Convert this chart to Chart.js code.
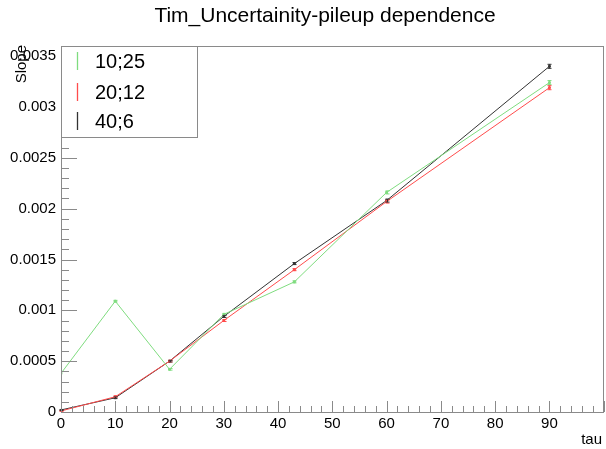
<!DOCTYPE html>
<html lang="en">
<head>
    <meta charset="UTF-8">
    <title>Tim_Uncertainity-pileup dependence</title>
    <style>
        body {
            margin: 0;
            background-color: #ffffff;
        }
        .wrap {
            width: 606px;
            height: 449px;
        }
    </style>
    <script src="https://cdn.jsdelivr.net/npm/chart.js@4/dist/chart.umd.min.js"></script>
</head>
<body>
    <div class="wrap">
        <canvas id="slopeChart" width="606" height="449"></canvas>
    </div>

    <script>
        // tau values and fitted slopes for each pileup configuration
        const tauGreen = [0, 0, 10, 20, 30, 43, 60, 90];
        const slopeGreen = [0.00001, 0.00038, 0.00109, 0.00042, 0.00096, 0.00128, 0.00216, 0.00324];
        const errGreen = [0, 0, 0.000008, 0.000008, 0.00001, 0.00001, 0.000015, 0.00002];

        const tauRed = [0, 10, 20, 30, 43, 60, 90];
        const slopeRed = [0.00001, 0.00015, 0.0005, 0.0009, 0.0014, 0.00207, 0.00319];
        const errRed = [0.000005, 0.000008, 0.000008, 0.00001, 0.00001, 0.000015, 0.00002];

        const tauBlack = [0, 10, 20, 30, 43, 60, 90];
        const slopeBlack = [0.00002, 0.00014, 0.0005, 0.00094, 0.00146, 0.00208, 0.0034];
        const errBlack = [0.000005, 0.000008, 0.000008, 0.00001, 0.00001, 0.000015, 0.00002];

        const legendLabels = ['10;25', '20;12', '40;6'];
        const xTicks = [0, 10, 20, 30, 40, 50, 60, 70, 80, 90];
        const yTicks = [0, 0.0005, 0.001, 0.0015, 0.002, 0.0025, 0.003, 0.0035];

        const GREEN = '#7fdc7f';
        const RED = '#ff4c4c';
        const BLACK = '#333333';
        const AXIS = '#8a8a8a';
        const FONT = "'Liberation Sans', Arial, sans-serif";

        function toPoints(xs, ys) {
            return xs.map((x, i) => ({ x: x, y: ys[i] }));
        }

        function series(label, xs, ys, errs, color) {
            return {
                label: label,
                data: toPoints(xs, ys),
                errors: errs,
                borderColor: color,
                backgroundColor: color,
                borderWidth: 1,
                pointStyle: 'rect',
                pointRadius: 1.3,
                pointHoverRadius: 1.3,
                tension: 0
            };
        }

        // vertical error bars with small end caps
        const errorBars = {
            id: 'errorBars',
            afterDatasetsDraw(chart) {
                const ctx = chart.ctx;
                const y = chart.scales.y;
                chart.data.datasets.forEach((ds, di) => {
                    const meta = chart.getDatasetMeta(di);
                    ctx.save();
                    ctx.strokeStyle = ds.borderColor;
                    ctx.lineWidth = 1;
                    meta.data.forEach((pt, i) => {
                        const e = ds.errors[i];
                        if (!e) return;
                        const v = ds.data[i].y;
                        const top = y.getPixelForValue(v + e);
                        const bot = y.getPixelForValue(v - e);
                        const px = Math.round(pt.x) + 0.5;
                        ctx.beginPath();
                        ctx.moveTo(px, top);
                        ctx.lineTo(px, bot);
                        ctx.moveTo(px - 2, top);
                        ctx.lineTo(px + 2, top);
                        ctx.moveTo(px - 2, bot);
                        ctx.lineTo(px + 2, bot);
                        ctx.stroke();
                    });
                    ctx.restore();
                });
            }
        };

        // frame, inward tick marks, title, axis titles and legend box
        const frameDecor = {
            id: 'frameDecor',
            afterDraw(chart) {
                const ctx = chart.ctx;
                const a = chart.chartArea;
                const xs = chart.scales.x;
                const ys = chart.scales.y;
                ctx.save();
                ctx.strokeStyle = AXIS;
                ctx.lineWidth = 1;
                ctx.strokeRect(Math.round(a.left) + 0.5, Math.round(a.top) + 0.5,
                    Math.round(a.right - a.left) - 1, Math.round(a.bottom - a.top));

                // x ticks: major every 10, minor every 2
                ctx.beginPath();
                for (let v = 0; v <= 100; v += 2) {
                    const px = Math.round(xs.getPixelForValue(v)) + 0.5;
                    const len = v % 10 === 0 ? 11 : 6;
                    ctx.moveTo(px, a.bottom);
                    ctx.lineTo(px, a.bottom - len);
                }
                // y ticks: major every 0.0005, minor every 0.0001
                for (let k = 0; k <= 36; k++) {
                    const py = Math.round(ys.getPixelForValue(k * 0.0001)) + 0.5;
                    const len = k % 5 === 0 ? 16 : 8;
                    ctx.moveTo(a.left, py);
                    ctx.lineTo(a.left + len, py);
                }
                ctx.stroke();

                // title
                ctx.fillStyle = '#000';
                ctx.font = '21px ' + FONT;
                ctx.textAlign = 'center';
                ctx.textBaseline = 'middle';
                ctx.fillText('Tim_Uncertainity-pileup dependence', 325, 16);

                // axis titles
                ctx.font = '15px ' + FONT;
                ctx.textAlign = 'right';
                ctx.textBaseline = 'alphabetic';
                ctx.fillText('tau', 602, 444);
                ctx.save();
                ctx.translate(26, 45);
                ctx.rotate(-Math.PI / 2);
                ctx.textAlign = 'right';
                ctx.fillText('Slope', 0, 0);
                ctx.restore();

                // legend
                ctx.fillStyle = '#ffffff';
                ctx.fillRect(61, 46, 136, 91);
                ctx.strokeStyle = AXIS;
                ctx.strokeRect(61.5, 46.5, 136, 91);
                const rows = [61, 92, 121];
                ctx.font = '20px ' + FONT;
                ctx.textAlign = 'left';
                ctx.textBaseline = 'middle';
                chart.data.datasets.forEach((ds, i) => {
                    ctx.strokeStyle = ds.borderColor;
                    ctx.lineWidth = 1.3;
                    ctx.beginPath();
                    ctx.moveTo(77.5, rows[i] - 9);
                    ctx.lineTo(77.5, rows[i] + 9);
                    ctx.stroke();
                    ctx.fillStyle = '#000';
                    ctx.fillText(legendLabels[i], 95, rows[i] + 1);
                });
                ctx.restore();
            }
        };

        function fmtY(v) {
            return v === 0 ? '0' : String(+v.toFixed(4));
        }

        new Chart(document.getElementById('slopeChart').getContext('2d'), {
            type: 'line',
            data: {
                datasets: [
                    series(legendLabels[0], tauGreen, slopeGreen, errGreen, GREEN),
                    series(legendLabels[1], tauRed, slopeRed, errRed, RED),
                    series(legendLabels[2], tauBlack, slopeBlack, errBlack, BLACK)
                ]
            },
            options: {
                responsive: false,
                animation: false,
                layout: {
                    padding: { top: 46, right: 1, left: 0, bottom: 0 }
                },
                plugins: {
                    legend: { display: false },
                    title: { display: false },
                    tooltip: { enabled: false }
                },
                scales: {
                    x: {
                        type: 'linear',
                        min: 0,
                        max: 100,
                        afterBuildTicks: s => { s.ticks = xTicks.map(v => ({ value: v })); },
                        afterFit: s => { s.height = 37; },
                        grid: { display: false, drawTicks: false },
                        border: { display: false },
                        ticks: {
                            color: '#000',
                            padding: 3,
                            maxRotation: 0,
                            font: { family: FONT, size: 15 }
                        }
                    },
                    y: {
                        type: 'linear',
                        min: 0,
                        max: 0.0036,
                        afterBuildTicks: s => { s.ticks = yTicks.map(v => ({ value: v })); },
                        afterFit: s => { s.width = 61; },
                        grid: { display: false, drawTicks: false },
                        border: { display: false },
                        ticks: {
                            color: '#000',
                            padding: 5,
                            font: { family: FONT, size: 15 },
                            callback: v => fmtY(v)
                        }
                    }
                }
            },
            plugins: [errorBars, frameDecor]
        });
    </script>
</body>
</html>
